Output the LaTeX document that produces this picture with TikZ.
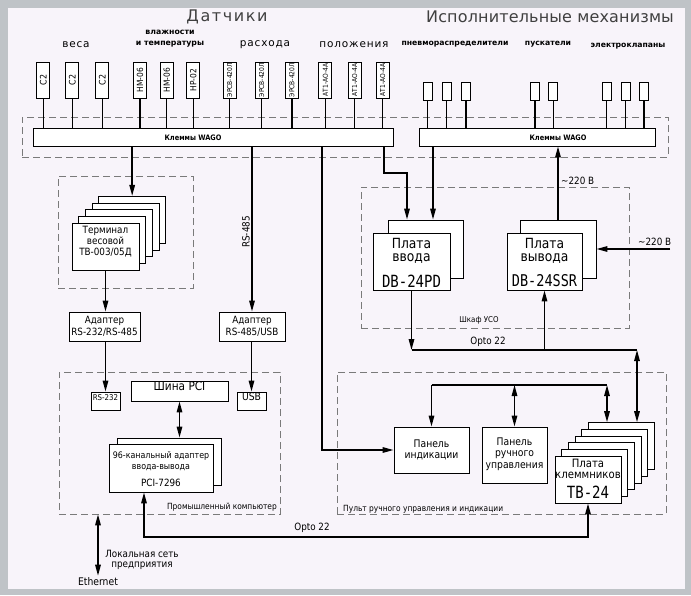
\documentclass[tikz,border=0pt]{standalone}
\usepackage{fontspec}
\usepackage{graphicx}
\setmainfont[FakeStretch=0.88]{DejaVu Sans}
\newfontfamily\plainf{DejaVu Sans}
\newfontfamily\titlef[LetterSpace=10]{DejaVu Sans}
\newfontfamily\titleg[LetterSpace=1]{DejaVu Sans}
\newfontfamily\catf[LetterSpace=8]{DejaVu Sans}
\newfontfamily\monof{DejaVu Sans Mono}
\usetikzlibrary{arrows.meta,fit}
\newcommand\fs[2]{\fontsize{#1}{#2}\selectfont}
\definecolor{framegray}{HTML}{BFC3C7}
\definecolor{paper}{HTML}{F8F4FA}
\definecolor{dashgray}{HTML}{7A7A7A}
\begin{document}
\begin{tikzpicture}[x=1pt,y=-1pt,
  box/.style={draw,line width=0.9pt,fill=white,inner sep=0pt},
  grp/.style={draw=dashgray,dash pattern=on 7pt off 4pt,line width=0.7pt,inner sep=0pt},
  wire/.style={line width=1.5pt},
  >={Triangle[length=11pt,width=5.5pt]},
  arr/.style={wire,->},
  darr/.style={wire,<->},
  txt/.style={inner sep=0pt,align=center},
]
\useasboundingbox (0,0) rectangle (691,595);
\fill[framegray] (0,0) rectangle (691,595);
\fill[paper] (8,8) rectangle (685,589);

% titles and categories
\node[txt,text=black!75,font=\titlef\fs{16}{16}] (tdat) at (227,17) {Датчики};
\node[txt,text=black!75,font=\titleg\fs{16}{16}] (tisp) at (550,17) {Исполнительные механизмы};
\node[txt,font=\catf\fs{10.5}{11}] (cves) at (76,45) {веса};
\node[txt,font=\plainf\bfseries\fs{7.8}{11}] (cvl) at (170,39) {влажности\\и температуры};
\node[txt,font=\catf\fs{10.5}{11}] (crash) at (265,45) {расхода};
\node[txt,font=\catf\fs{10.5}{11}] (cpol) at (354,45) {положения};
\node[txt,font=\plainf\bfseries\fs{7.7}{9}] (cpn) at (455,44) {пневмораспределители};
\node[txt,font=\plainf\bfseries\fs{7.7}{9}] (cpu) at (548,44) {пускатели};
\node[txt,font=\plainf\bfseries\fs{7.7}{9}] (cel) at (628,46) {электроклапаны};

% dashed groups
\node[grp,fit={(22,117)(668,157)}] (gwago) {};
\node[grp,fit={(58,176)(193,288)}] (gterm) {};
\node[grp,fit={(361,187)(629,328)}] (guso) {};
\node[grp,fit={(59,372)(280,514)}] (gpc) {};
\node[grp,fit={(337,372)(666,514)}] (gpult) {};
\node[txt,font=\fs{8}{9}] (luso) at (479,320) {Шкаф УСО};
\node[txt,font=\fs{8.5}{9},anchor=east] (lpc) at (277,507) {Промышленный компьютер};
\node[txt,font=\fs{8.5}{9},anchor=west] (lpult) at (343,509) {Пульт ручного управления и индикации};

% terminal bars
\node[box,fit={(33,128)(393,146)}] (bar1) {};
\node[txt,font=\bfseries\fs{7.5}{8}] (bar1t) at (193,137.5) {Клеммы WAGO};
\node[box,fit={(419,128)(655,146)}] (bar2) {};
\node[txt,font=\bfseries\fs{7.5}{8}] (bar2t) at (558,137.5) {Клеммы WAGO};

% sensors
\foreach \i/\x/\t/\s in {1/43.3/С2/9, 2/72.3/С2/9, 3/102.3/С2/9, 4/140/НМ-06/8.5, 5/166.7/НМ-06/8.5, 6/193.3/НР-02/8.5, 7/229.7/ЭРСВ-420Л/6.8, 8/261.7/ЭРСВ-420Л/6.8, 9/292/ЭРСВ-420Л/6.8, 10/325.3/АТ1-АО-4А/6.8, 11/354.7/АТ1-АО-4А/6.8, 12/382.7/АТ1-АО-4А/6.8}{
  \node[box,minimum width=13pt,minimum height=36pt] (s\i) at (\x,80) {\rotatebox{90}{\fs{\s}{\s}\t}};
  \draw[wire] (s\i.south) -- (s\i.south |- bar1.north);
}
% actuators
\foreach \i/\x in {1/427.5,2/446.7,3/465.8,4/535,5/553.3,6/606.7,7/625.5,8/643.8}{
  \node[box,minimum width=9pt,minimum height=18pt] (a\i) at (\x,91) {};
  \draw[wire] (a\i.south) -- (a\i.south |- bar2.north);
}

% weighing terminal stack
\foreach \k in {4,3,2,1,0}{
  \node[box,fit={({72+\k*6.67},{223-\k*6.67}) ({139+\k*6.67},{270-\k*6.67})}] (tv\k) {};
}
\node[txt,font=\fs{10}{8.5}] (tvt) at (105.5,242) {Терминал\\весовой\\[3pt]ТВ-003/05Д};

% adapters
\node[box,fit={(69,312)(140,341)}] (ad1) {};
\node[txt,font=\fs{10}{12}] (ad1t) at (104.5,326.5) {Адаптер\\RS-232/RS-485};
\node[box,fit={(219,312)(285,341)}] (ad2) {};
\node[txt,font=\fs{10}{12}] (ad2t) at (252,326.5) {Адаптер\\RS-485/USB};

% USO boards
\node[box,fit={(388,220)(463,278)}] (pd2) {};
\node[box,fit={(373,233)(450,290)}] (pd1) {};
\node[txt,font=\fs{14}{13}] (pdt) at (411.5,251) {Плата\\ввода};
\node[txt,font=\monof\fs{14}{14}] (pdn) at (411.5,281) {\scalebox{1}[1.2]{DB-24PD}};
\node[box,fit={(520,220)(596,278)}] (ssr2) {};
\node[box,fit={(507,233)(582,290)}] (ssr1) {};
\node[txt,font=\fs{14}{13}] (ssrt) at (544.5,251) {Плата\\вывода};
\node[txt,font=\monof\fs{13.5}{14}] (ssrn) at (544.5,281) {\scalebox{1}[1.2]{DB-24SSR}};

% computer
\node[box,fit={(91,392)(120,410)},font=\fs{8}{8}] (rs232) {RS-232};
\node[box,fit={(237,392)(266,410)},font=\fs{10.5}{10}] (usb) {USB};
\node[box,fit={(131,381)(228,401)},font=\fs{12}{12}] (pci) {Шина PCI};
\node[box,fit={(117,438)(221,485)}] (io2) {};
\node[box,fit={(109,444)(213,492)}] (io1) {};
\node[txt,font=\fs{9}{11}] (iot) at (161,461) {96-канальный адаптер\\ввода-вывода};
\node[txt,font=\fs{10}{10}] (ion) at (161,483) {PCI-7296};

% console
\node[box,fit={(394,427)(469,473)}] (pind) {};
\node[txt,font=\fs{10.5}{11}] (pindt) at (431.5,450) {Панель\\индикации};
\node[box,fit={(482,427)(547,483)}] (pruch) {};
\node[txt,font=\fs{10.5}{11.5}] (prucht) at (514.5,454) {Панель\\ручного\\управления};
\foreach \k in {5,4,3,2,1,0}{
  \node[box,fit={({555+\k*6.67},{456-\k*6.67}) ({621+\k*6.67},{503-\k*6.67})}] (tb\k) {};
}
\node[txt,font=\fs{11.5}{11}] (tbt) at (588,469) {Плата\\клеммников};
\node[txt,font=\monof\fs{14}{14}] (tbn) at (588,492) {\scalebox{1}[1.2]{ТВ-24}};

% helper coordinates
\coordinate (c322) at (322,0);
\coordinate (c384) at (384,0);
\coordinate (c433) at (433,0);
\coordinate (jog) at (407,173);
\coordinate (busR) at (637,350);
\coordinate (ib) at (607,385);
\coordinate (ob) at (144,537);
\coordinate (v220) at (670,249);

% connectors
\draw[arr] (bar1.south -| tv4.north) -- (tv4.north);
\draw[arr] (tv0.south) -- (tv0.south |- ad1.north);
\draw[arr] (bar1.south -| ad2.north) -- (ad2.north);
\node[txt,font=\fs{10}{10},rotate=90] (l485) at (246,232) {RS-485};
\draw[arr] (rs232.north |- ad1.south) -- (rs232.north);
\draw[arr] (usb.north |- ad2.south) -- (usb.north);
\draw[darr] (pci.south) -- (pci.south |- io2.north);
\draw[arr] (bar1.south -| c322) |- (pind.west);
\draw[arr] (bar1.south -| c384) |- (jog) -- (jog |- pd2.north);
\draw[arr] (bar2.south -| c433) -- (c433 |- pd2.north);
\draw[arr] (ssr2.north) -- (ssr2.north |- bar2.south);
\node[txt,font=\fs{10}{10},anchor=west] (l220a) at (561,181) {\textasciitilde220 В};
\draw[arr] (v220) -- (ssr2.east);
\node[txt,font=\fs{10}{10},anchor=south west] (l220b) at (638,246) {\textasciitilde220 В};
\draw[arr] (pd1.south) -- (pd1.south |- busR);
\draw[wire] (pd1.south |- busR) -- (busR);
\draw[arr] (ssr1.south |- busR) -- (ssr1.south);
\draw[darr] (busR) -- (busR |- tb5.north);
\node[txt,font=\fs{10}{10}] (lopto1) at (488,342) {Opto 22};
\draw[wire] (pind.north |- ib) -- (ib);
\draw[arr] (pind.north |- ib) -- (pind.north);
\draw[darr] (pruch.north |- ib) -- (pruch.north);
\draw[darr] (ib) -- (ib |- tb5.north);
\draw[darr] (ob |- io1.south) -- (ob) -- (ob -| tb0.south) -- (tb0.south);
\node[txt,font=\fs{10}{10}] (lopto2) at (312,528) {Opto 22};
\node[txt,font=\fs{10.5}{10}] (eth) at (98,582) {Ethernet};
\draw[darr] (gpc.south -| eth.north) -- ([yshift=2pt]eth.north);
\node[txt,font=\fs{10}{10.5}] (lan) at (142,560) {Локальная сеть\\предприятия};
\end{tikzpicture}
\end{document}
